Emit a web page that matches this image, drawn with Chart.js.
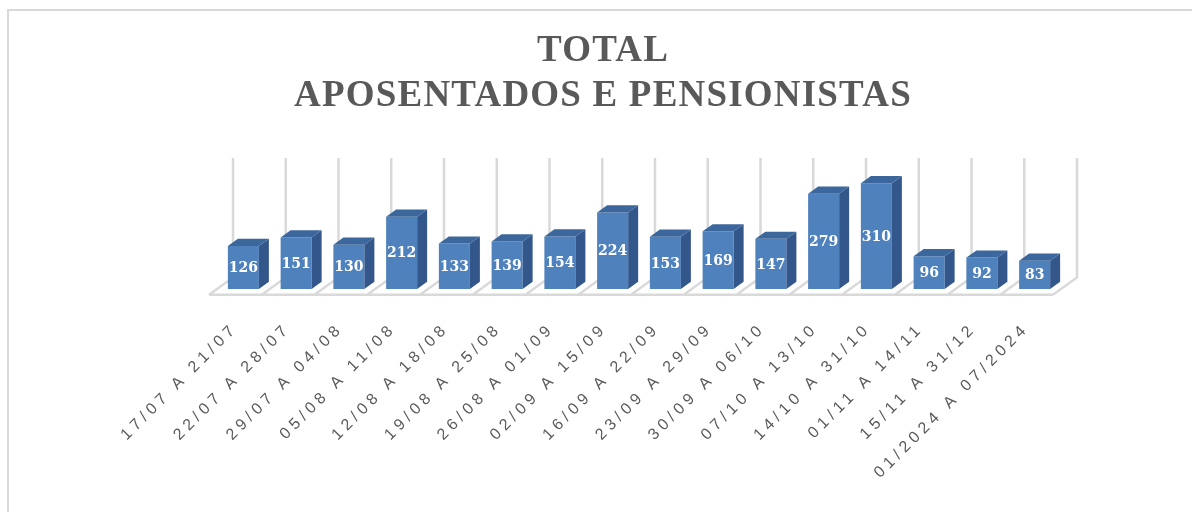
<!DOCTYPE html>
<html>
<head>
<meta charset="utf-8">
<title>Total aposentados e pensionistas</title>
<script src="https://cdn.jsdelivr.net/npm/chart.js@4.4.1/dist/chart.umd.min.js"></script>
<style>
  body { margin: 0; background: #fff; }
  #wrap { position: relative; width: 1192px; height: 512px; overflow: hidden; }
  #frame { position: absolute; left: 7px; top: 9px; width: 1300px; height: 600px; border-top: 2px solid #d9d9d9; border-left: 2px solid #d9d9d9; }
  canvas { position: absolute; left: 0; top: 0; }
</style>
</head>
<body>
<div id="wrap">
  <div id="frame"></div>
  <canvas id="total-chart" width="1192" height="512"></canvas>
</div>
<script>
const periods = [
  '17/07 A 21/07', '22/07 A 28/07', '29/07 A 04/08', '05/08 A 11/08',
  '12/08 A 18/08', '19/08 A 25/08', '26/08 A 01/09', '02/09 A 15/09',
  '16/09 A 22/09', '23/09 A 29/09', '30/09 A 06/10', '07/10 A 13/10',
  '14/10 A 31/10', '01/11 A 14/11', '15/11 A 31/12', '01/2024 A 07/2024'
]
const totals = [126, 151, 130, 212, 133, 139, 154, 224, 153, 169, 147, 279, 310, 96, 92, 83]
const titleLines = ['TOTAL', 'APOSENTADOS E PENSIONISTAS']
const axisMax = 350

// fake 3d: offsets along the depth direction (x px, y goes up by slope * x)
const depth = { floor: -8, bar: 10, wall: 16, slope: 0.72 }
const shift = (x, y, t) => [x + t, y - t * depth.slope]

const box3d = {
  id: 'box3d',
  beforeDraw (chart) {
    // spacing for the title letters
    chart.ctx.letterSpacing = '1.2px'
  },
  // floor and back wall lines
  beforeDatasetsDraw (chart) {
    const { ctx, chartArea } = chart
    const xs = chart.scales.x
    const cw = xs.width / periods.length
    ctx.save()
    ctx.strokeStyle = '#d9d9d9'
    ctx.lineWidth = 2.5
    const [fx0, fy] = shift(xs.left, chartArea.bottom, depth.floor)
    const [fx1] = shift(xs.right, chartArea.bottom, depth.floor)
    ctx.beginPath()
    ctx.moveTo(fx0, fy)
    ctx.lineTo(fx1, fy)
    for (let k = 0; k <= periods.length; k++) {
      const b = xs.left + k * cw
      const front = shift(b, chartArea.bottom, depth.floor)
      const back = shift(b, chartArea.bottom, depth.wall)
      const top = shift(b, chartArea.top, depth.wall)
      ctx.moveTo(front[0], front[1])
      ctx.lineTo(back[0], back[1])
      ctx.lineTo(top[0], top[1])
    }
    ctx.stroke()
    ctx.restore()
  },
  // side and top faces of every bar, then the value inside the front face
  afterDatasetsDraw (chart) {
    const { ctx } = chart
    const meta = chart.getDatasetMeta(0)
    ctx.save()
    ctx.letterSpacing = '0px'
    meta.data.forEach((bar, i) => {
      const { x, y, base, width } = bar.getProps(['x', 'y', 'base', 'width'], true)
      const l = x - width / 2
      const r = x + width / 2
      const tr = shift(r, y, depth.bar)
      const br = shift(r, base, depth.bar)
      const tl = shift(l, y, depth.bar)

      ctx.fillStyle = '#33578a'
      ctx.beginPath()
      ctx.moveTo(r, y)
      ctx.lineTo(tr[0], tr[1])
      ctx.lineTo(br[0], br[1])
      ctx.lineTo(r, base)
      ctx.closePath()
      ctx.fill()

      ctx.fillStyle = '#3c679c'
      ctx.beginPath()
      ctx.moveTo(l, y)
      ctx.lineTo(tl[0], tl[1])
      ctx.lineTo(tr[0], tr[1])
      ctx.lineTo(r, y)
      ctx.closePath()
      ctx.fill()

      ctx.fillStyle = '#ffffff'
      ctx.font = 'bold 14px "DejaVu Serif"'
      ctx.textAlign = 'center'
      ctx.textBaseline = 'middle'
      ctx.fillText(String(totals[i]), x, (y + base) / 2 + 1)
    })
    ctx.restore()
    // category labels come next (ticks.z = 1), with wide spacing
    ctx.letterSpacing = '4.5px'
  },
  afterDraw (chart) {
    chart.ctx.letterSpacing = '0px'
  }
}

const config = {
  type: 'bar',
  data: {
    labels: periods,
    datasets: [{
      label: 'Total',
      data: totals,
      backgroundColor: '#4f81bd',
      borderWidth: 0,
      barPercentage: 0.588,
      categoryPercentage: 1
    }]
  },
  options: {
    responsive: false,
    animation: false,
    layout: { padding: { left: 145, right: 131, top: 28.4, bottom: 0 } },
    plugins: {
      legend: { display: false },
      tooltip: { enabled: false },
      title: {
        display: true,
        text: titleLines,
        color: '#595959',
        font: { family: 'Liberation Serif', size: 37, weight: 'bold', lineHeight: 1.22 },
        padding: { top: 0, bottom: 50.9 }
      }
    },
    scales: {
      x: {
        grid: { display: false },
        border: { display: false },
        ticks: {
          z: 1,
          color: '#595959',
          font: { family: 'Liberation Sans', size: 16 },
          maxRotation: 45,
          minRotation: 45,
          autoSkip: false,
          padding: 22,
          labelOffset: -8
        },
        afterFit (scale) {
          scale.height = 223
        }
      },
      y: {
        min: 0,
        max: axisMax,
        grid: { display: false },
        border: { display: false },
        ticks: { display: false },
        afterFit (scale) {
          scale.width = 72
        }
      }
    }
  },
  plugins: [box3d]
}

const totalChart = new Chart(document.querySelector('#total-chart'), config)
</script>
</body>
</html>
